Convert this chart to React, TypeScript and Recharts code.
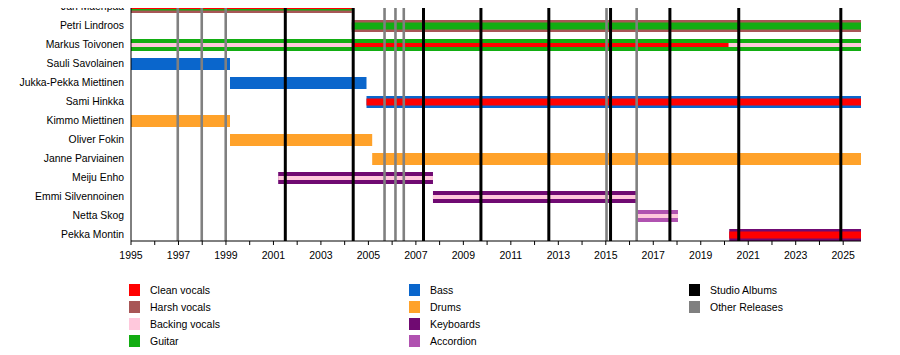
import React from 'react'
import { BarChart, Bar, XAxis, YAxis, ReferenceLine } from 'recharts'

const END = 2025.75

const members = [
  'Jari Mäenpää', 'Petri Lindroos', 'Markus Toivonen', 'Sauli Savolainen',
  'Jukka-Pekka Miettinen', 'Sami Hinkka', 'Kimmo Miettinen', 'Oliver Fokin',
  'Janne Parviainen', 'Meiju Enho', 'Emmi Silvennoinen', 'Netta Skog', 'Pekka Montin',
]

// full-width bar per member (main role)
const mainSpan: [number, number][] = [
  [1995, 2004.3], [2004.3, END], [1995, END], [1995, 1999.17], [1999.17, 2004.92],
  [2004.92, END], [1995, 1999.17], [1999.17, 2005.16], [2005.16, END],
  [2001.2, 2007.72], [2007.72, 2016.32], [2016.32, 2018.04], [2020.2, END],
]
const mainRole = [
  'harsh', 'harsh', 'guitar', 'bass', 'bass', 'bass', 'drums', 'drums', 'drums',
  'keyboards', 'keyboards', 'accordion', 'keyboards',
]

// second role, medium stripe (same span as the main bar)
const secondRole = ['guitar', 'guitar', '', '', '', 'clean', '', '', '', '', '', '', 'clean']

// third role, thin stripe (same span as the main bar)
const thirdRole = ['clean', '', 'backing', '', '', '', '', '', '', 'backing', 'backing', 'backing', '']

// thin stripe over only part of the bar
const partSpan: ([number, number] | null)[] = [
  null, null, [2004.3, 2020.17], null, null, null, null, null, null, null, null, null, null,
]
const partRole = ['', '', 'clean', '', '', '', '', '', '', '', '', '', '']

const studioAlbums = [2001.5, 2004.36, 2007.32, 2009.74, 2012.6, 2015.2, 2017.7, 2020.6, 2024.9]
const otherReleases = [1996.97, 1997.98, 1998.99, 2005.68, 2006.14, 2006.49, 2015.03, 2016.3]

const years = Array.from({ length: 31 }, (_, i) => 1995 + i)

const roleColor: Record<string, string> = {
  clean: '#ff0000',
  harsh: '#a85656',
  backing: '#ffc8dc',
  guitar: '#12ad12',
  bass: '#0a66cc',
  drums: '#ffa22a',
  keyboards: '#700a72',
  accordion: '#b052b0',
}

const legendCols = [
  [['Clean vocals', roleColor.clean], ['Harsh vocals', roleColor.harsh], ['Backing vocals', roleColor.backing], ['Guitar', roleColor.guitar]],
  [['Bass', roleColor.bass], ['Drums', roleColor.drums], ['Keyboards', roleColor.keyboards], ['Accordion', roleColor.accordion]],
  [['Studio Albums', '#000000'], ['Other Releases', '#808080']],
]

const rows = members.map((name, i) => ({
  name,
  span: mainSpan[i],
  main: mainRole[i],
  second: secondRole[i],
  third: thirdRole[i],
  part: partSpan[i],
  partRole: partRole[i],
}))

const font = '"Liberation Sans", Arial, sans-serif'

const NameTick = (p: any) => (
  <text x={p.x} y={p.y} textAnchor="end" dominantBaseline="central" fill="#000" fontSize={10.4} fontFamily={font}>
    {p.payload.value}
  </text>
)

// one bar per member, with the extra roles drawn as stripes inside it
const MemberBar = (p: any) => {
  const { x, y, width, height, payload } = p
  if (!payload || width == null) return null
  const cy = y + height / 2
  const [s0, s1] = payload.span
  const toX = (yr: number) => x + ((yr - s0) / (s1 - s0)) * width
  return (
    <g>
      <rect x={x} y={y} width={width} height={height} fill={roleColor[payload.main]} />
      {payload.second && (
        <rect x={x} y={cy - 3.5} width={width} height={7} fill={roleColor[payload.second]} />
      )}
      {payload.third && (
        <rect x={x} y={cy - 2} width={width} height={4} fill={roleColor[payload.third]} />
      )}
      {payload.part && (
        <rect
          x={toX(payload.part[0])}
          y={cy - 2}
          width={toX(payload.part[1]) - toX(payload.part[0])}
          height={4}
          fill={roleColor[payload.partRole]}
        />
      )}
    </g>
  )
}

export default function App() {
  return (
    <div style={{ position: 'relative', width: 900, height: 355, margin: '-8px 0 0 -8px', fontFamily: font, background: '#fff' }}>
      <BarChart
        width={900}
        height={355}
        data={rows}
        layout="vertical"
        margin={{ top: -3, right: 39, left: 0, bottom: 90 }}
      >
        <XAxis
          type="number"
          domain={[1995, END]}
          allowDataOverflow
          ticks={years}
          interval={0}
          tickFormatter={(v: number) => (v % 2 === 1 ? String(v) : '')}
          height={24}
          tickSize={4}
          tickMargin={7}
          stroke="#000"
          tick={{ fill: '#000', fontSize: 10.5, fontFamily: font }}
        />
        <YAxis
          type="category"
          dataKey="name"
          width={131}
          interval={0}
          padding={{ top: 0, bottom: -3 }}
          tickSize={0}
          tickMargin={7}
          stroke="#000"
          tick={NameTick}
        />
        {otherReleases.map((x) => (
          <ReferenceLine key={'o' + x} x={x} stroke="#808080" strokeWidth={2.6} />
        ))}
        {studioAlbums.map((x) => (
          <ReferenceLine key={'s' + x} x={x} stroke="#000" strokeWidth={3} />
        ))}
        <Bar dataKey="span" barSize={12} shape={MemberBar} isAnimationActive={false} />
      </BarChart>

      {legendCols.map((col, c) => (
        <div key={c} style={{ position: 'absolute', left: 129 + c * 280, top: 281 }}>
          {col.map(([label, color]) => (
            <div key={label} style={{ display: 'flex', alignItems: 'center', height: 17 }}>
              <div style={{ width: 11, height: 12, background: color, marginRight: 10 }} />
              <span style={{ fontSize: 10.5, color: '#000' }}>{label}</span>
            </div>
          ))}
        </div>
      ))}
    </div>
  )
}
